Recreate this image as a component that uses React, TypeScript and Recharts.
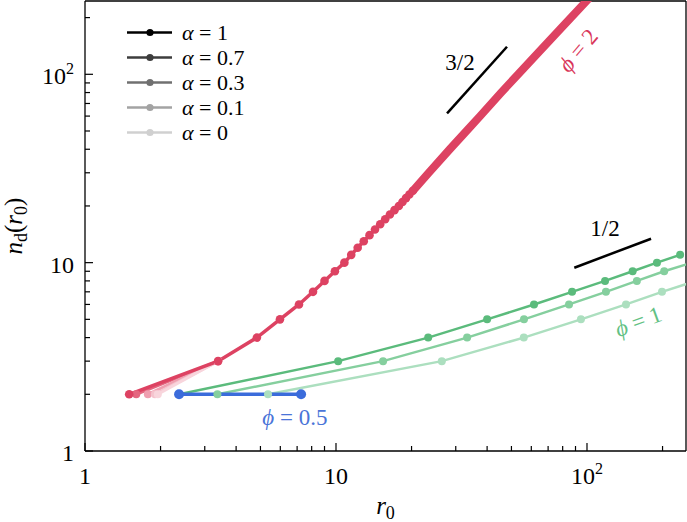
import React from "react";
import {
  LineChart,
  Line,
  XAxis,
  YAxis,
  ReferenceLine,
  ReferenceDot,
  Legend,
} from "recharts";

const SERIF = '"Liberation Serif", "DejaVu Serif", serif';
const serif = { fontFamily: SERIF };

// log axes, both from 1 to ~250
const logTicks = [1, 2, 3, 4, 5, 6, 7, 8, 9, 10, 20, 30, 40, 50, 60, 70, 80, 90, 100, 200];
const majorTicks = [1, 10, 100];
const xDomain = [1, 248];
const yDomain = [1, 245];

// phi = 2, alpha = 1 : one dot per n_d
const phi2Nd = [2, 3, 4, 5, 6, 7, 8, 9, 10, 11, 12, 13, 14, 15, 16, 17, 18, 19, 20, 21, 22, 23, 24];
const phi2R0 = [1.5, 3.39, 4.84, 5.98, 7.12, 8.1, 9.0, 9.9, 10.8, 11.5, 12.2, 12.9, 13.6, 14.3, 15.0, 15.7, 16.4, 17.1, 17.8, 18.4, 19.0, 19.6, 20.2];
// phi = 2 tail, where the dots merge into a band
const phi2TailNd = [24, 30, 40, 50, 60, 80, 100, 130, 160, 200, 250, 300];
const phi2TailR0 = [20.2, 23.4, 28.4, 33.1, 37.5, 45.5, 53.2, 63.9, 73.9, 86.4, 101, 115];
// phi = 2, smaller alpha: only the first point moves (alpha 0.7, 0.3, 0.1, 0)
const phi2StartR0 = [1.6, 1.78, 1.9, 1.95];
const phi2AlphaColors = ["#e4667f", "#ef9fb0", "#f5c3cd", "#f8d5dc"];

// phi = 1
const phi1TopNd = [2, 3, 4, 5, 6, 7, 8, 9, 10, 11];
const phi1TopR0 = [2.37, 10.2, 23.3, 40.0, 61.5, 87.2, 118, 152, 190, 235];
const phi1MidNd = [2, 3, 4, 5, 6, 7, 8, 9, 10];
const phi1MidR0 = [3.37, 15.4, 33.3, 56.1, 84.8, 119, 158, 203, 262];
const phi1LowNd = [2, 3, 4, 5, 6, 7, 8];
const phi1LowR0 = [5.36, 26.4, 56.0, 94.6, 143, 199, 272];

// phi = 0.5
const phiHalfNd = [2, 2];
const phiHalfR0 = [2.37, 7.26];

// legend
const alphaLabels = ["1", "0.7", "0.3", "0.1", "0"];
const alphaGreys = ["#000000", "#3d3d3d", "#707070", "#a3a3a3", "#d0d0d0"];

const RED = "#dd4262";
const GREEN_TOP = "#5bbb7c";
const GREEN_MID = "#85cf9e";
const GREEN_LOW = "#acdfbf";
const BLUE = "#3b6cdb";

const pts = (xs: number[], ys: number[]) => xs.map((x, i) => ({ x, y: ys[i] }));

function TickLabel({ v }: { v: number }) {
  if (v === 100) {
    return (
      <>
        10
        <tspan fontSize={16} dy={-10}>
          2
        </tspan>
      </>
    );
  }
  return <>{v}</>;
}

function XTick(props: any) {
  const { x, y, payload } = props;
  const major = majorTicks.includes(payload.value);
  return (
    <g>
      <line x1={x} x2={x} y1={y} y2={y - (major ? 8 : 5)} stroke="#000" strokeWidth={1.2} />
      {major && (
        <text x={x} y={y + 33} textAnchor="middle" style={serif} fontSize={24} fill="#000">
          <TickLabel v={payload.value} />
        </text>
      )}
    </g>
  );
}

function YTick(props: any) {
  const { x, y, payload } = props;
  const major = majorTicks.includes(payload.value);
  return (
    <g>
      <line x1={x} x2={x + (major ? 8 : 5)} y1={y} y2={y} stroke="#000" strokeWidth={1.2} />
      {major && (
        <text x={x - 11} y={y + 10} textAnchor="end" style={serif} fontSize={24} fill="#000">
          <TickLabel v={payload.value} />
        </text>
      )}
    </g>
  );
}

function AlphaLegend() {
  return (
    <svg width={200} height={125}>
      {alphaLabels.map((a, i) => (
        <g key={a} transform={`translate(0, ${12.5 + i * 25})`}>
          <line x1={0} x2={45} y1={0} y2={0} stroke={alphaGreys[i]} strokeWidth={2.5} />
          <circle cx={23} cy={0} r={3.6} fill={alphaGreys[i]} />
          <text x={55} y={7} style={serif} fontSize={22} fill="#000">
            <tspan fontStyle="italic">α</tspan> = {a}
          </text>
        </g>
      ))}
    </svg>
  );
}

const note =
  (content: React.ReactNode, color: string, angle = 0) =>
  (props: any) => {
    const vb = props.viewBox || {};
    const cx = vb.x + (vb.width || 0) / 2;
    const cy = vb.y + (vb.height || 0) / 2;
    return (
      <text
        transform={`translate(${cx},${cy}) rotate(${angle})`}
        textAnchor="middle"
        dominantBaseline="central"
        style={serif}
        fontSize={23}
        fill={color}
      >
        {content}
      </text>
    );
  };

const phiText = (v: string) => (
  <>
    <tspan fontStyle="italic">ϕ</tspan> = {v}
  </>
);

export default function App() {
  return (
    <div style={{ width: 687, height: 522, background: "#fff" }}>
      <style>{"body{margin:0;background:#fff}"}</style>
      <LineChart width={687} height={522} margin={{ top: 1, right: 1, bottom: 0, left: 0 }}>
        <XAxis
          type="number"
          dataKey="x"
          scale="log"
          domain={xDomain}
          allowDataOverflow
          ticks={logTicks}
          interval={0}
          tick={<XTick />}
          tickLine={false}
          tickSize={0}
          tickMargin={0}
          height={71}
          axisLine={{ stroke: "#000", strokeWidth: 1.3 }}
          label={(p: any) => {
            const vb = p.viewBox || {};
            const cx = vb.x + vb.width / 2;
            return (
              <text x={cx} y={514} textAnchor="middle" style={serif} fontSize={25} fill="#000">
                <tspan fontStyle="italic">r</tspan>
                <tspan fontSize={18} dy={5}>
                  0
                </tspan>
              </text>
            );
          }}
        />
        <YAxis
          type="number"
          dataKey="y"
          scale="log"
          domain={yDomain}
          allowDataOverflow
          ticks={logTicks}
          interval={0}
          tick={<YTick />}
          tickLine={false}
          tickSize={0}
          tickMargin={0}
          width={85}
          axisLine={{ stroke: "#000", strokeWidth: 1.3 }}
          label={(p: any) => {
            const vb = p.viewBox || {};
            const cy = vb.y + vb.height / 2;
            return (
              <text
                transform={`translate(22,${cy}) rotate(-90)`}
                textAnchor="middle"
                style={serif}
                fontSize={25}
                fill="#000"
              >
                <tspan fontStyle="italic">n</tspan>
                <tspan fontSize={18} dy={5}>
                  d
                </tspan>
                <tspan dy={-5}>(</tspan>
                <tspan fontStyle="italic">r</tspan>
                <tspan fontSize={18} dy={5}>
                  0
                </tspan>
                <tspan dy={-5}>)</tspan>
              </text>
            );
          }}
        />
        <ReferenceLine y={yDomain[1]} stroke="#000" strokeWidth={1.3} />
        <ReferenceLine x={xDomain[1]} stroke="#000" strokeWidth={1.3} />

        <Legend
          layout="vertical"
          align="center"
          verticalAlign="middle"
          content={<AlphaLegend />}
          wrapperStyle={{ left: 127, top: 20, width: 200, height: 125 }}
        />

        {/* phi = 1 */}
        <Line
          data={pts(phi1LowR0, phi1LowNd)}
          dataKey="y"
          stroke={GREEN_LOW}
          strokeWidth={2.5}
          dot={{ r: 4, fill: GREEN_LOW, strokeWidth: 0 }}
          isAnimationActive={false}
        />
        <Line
          data={pts(phi1MidR0, phi1MidNd)}
          dataKey="y"
          stroke={GREEN_MID}
          strokeWidth={2.5}
          dot={{ r: 4, fill: GREEN_MID, strokeWidth: 0 }}
          isAnimationActive={false}
        />
        <Line
          data={pts(phi1TopR0, phi1TopNd)}
          dataKey="y"
          stroke={GREEN_TOP}
          strokeWidth={2.5}
          dot={{ r: 4, fill: GREEN_TOP, strokeWidth: 0 }}
          isAnimationActive={false}
        />

        {/* phi = 2 */}
        {phi2StartR0.map((r0, i) => (
          <Line
            key={r0}
            data={pts([r0, phi2R0[1]], [phi2Nd[0], phi2Nd[1]])}
            dataKey="y"
            stroke={phi2AlphaColors[i]}
            strokeWidth={3}
            dot={{ r: 4, fill: phi2AlphaColors[i], strokeWidth: 0 }}
            isAnimationActive={false}
          />
        ))}
        <Line
          data={pts(phi2TailR0, phi2TailNd)}
          dataKey="y"
          stroke={RED}
          strokeWidth={8}
          dot={false}
          isAnimationActive={false}
        />
        <Line
          data={pts(phi2R0, phi2Nd)}
          dataKey="y"
          stroke={RED}
          strokeWidth={3.5}
          dot={{ r: 4.3, fill: RED, strokeWidth: 0 }}
          isAnimationActive={false}
        />

        {/* phi = 0.5 */}
        <Line
          data={pts(phiHalfR0, phiHalfNd)}
          dataKey="y"
          stroke={BLUE}
          strokeWidth={3.5}
          dot={{ r: 5, fill: BLUE, strokeWidth: 0 }}
          isAnimationActive={false}
        />

        {/* slope guides */}
        <ReferenceLine
          segment={[
            { x: 27.7, y: 62 },
            { x: 48, y: 140 },
          ]}
          stroke="#000"
          strokeWidth={2.5}
        />
        <ReferenceLine
          segment={[
            { x: 89, y: 9.4 },
            { x: 180, y: 13.4 },
          ]}
          stroke="#000"
          strokeWidth={2.5}
        />

        <ReferenceDot x={31.2} y={115.7} r={0} fill="none" stroke="none" label={note("3/2", "#000")} />
        <ReferenceDot x={118} y={15.1} r={0} fill="none" stroke="none" label={note("1/2", "#000")} />
        <ReferenceDot x={92.1} y={134} r={0} fill="none" stroke="none" label={note(phiText("2"), "#d9365a", -50)} />
        <ReferenceDot x={160} y={4.87} r={0} fill="none" stroke="none" label={note(phiText("1"), "#62c184", -20)} />
        <ReferenceDot x={6.86} y={1.51} r={0} fill="none" stroke="none" label={note(phiText("0.5"), "#4a74d8")} />
      </LineChart>
    </div>
  );
}
